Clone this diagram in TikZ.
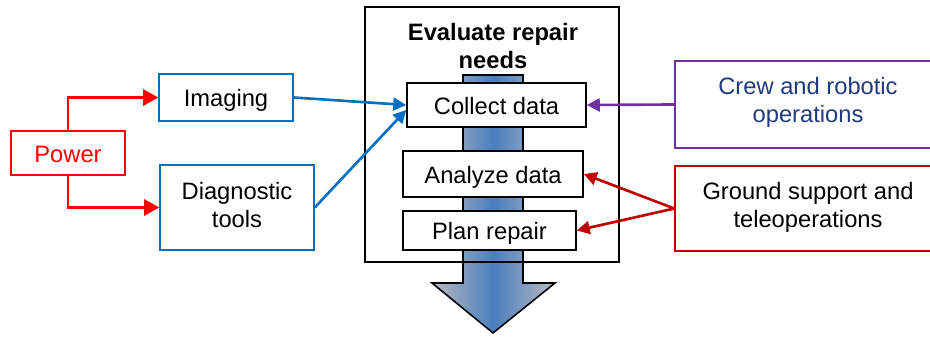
\documentclass[tikz,border=0pt]{standalone}
\usepackage{fontspec}
\setmainfont{Liberation Sans}
\usetikzlibrary{arrows.meta,positioning}
\definecolor{pwr}{HTML}{FF0000}
\definecolor{tool}{HTML}{0070C0}
\definecolor{crew}{HTML}{7030A0}
\definecolor{navy}{HTML}{1F3A80}
\definecolor{gnd}{HTML}{C00000}
\definecolor{flowmid}{HTML}{4A7EBF}
\definecolor{flowedge}{HTML}{B8BAC0}
\tikzset{
  lab/.style={font=\fontsize{13.5}{16}\selectfont, align=center, inner sep=0pt},
  one/.style={text height=1.1em, text depth=0.06em},
  box/.style={lab, one, draw=black, line width=0.9pt, fill=white},
  srcbox/.style={lab, line width=0.9pt, fill=white},
  frame/.style={draw=black, line width=0.9pt, inner sep=0pt},
  flow/.style={draw=black, line width=0.9pt, left color=flowedge, right color=flowedge, middle color=flowmid},
  feed/.style={line width=1.6pt, -{Triangle[length=3mm, width=3.2mm]}},
  link/.style={line width=1.5pt, -{Triangle[length=2.6mm, width=2.6mm]}},
}
\begin{document}
\begin{tikzpicture}[x=0.02cm, y=-0.02cm]
\useasboundingbox (0,0) rectangle (930,337);
% big flow arrow behind the steps
\draw[flow] (463,75) -- (523,75) -- (523,283) -- (555,283) -- (493,333)
  -- (432,283) -- (463,283) -- cycle;
\node[frame, minimum width=5.08cm, minimum height=5.1cm] (evaluate) at (492,134.5) {};
\node[lab, font=\fontsize{13.5}{16}\selectfont\bfseries] (title) at (493,46) {Evaluate repair\\needs};
% steps
\node[box, minimum width=3.58cm, minimum height=0.88cm] (collect) at (496.5,105) {Collect data};
\node[box, minimum width=3.6cm, minimum height=0.92cm] (analyze) at (493,174) {Analyze data};
\node[box, minimum width=3.46cm, minimum height=0.78cm] (plan) at (489.5,230.5) {Plan repair};
% left side
\node[srcbox, one, draw=pwr, text=pwr, minimum width=2.28cm, minimum height=0.88cm] (power) at (68,153) {Power};
\node[srcbox, one, draw=tool, minimum width=2.68cm, minimum height=0.94cm] (imaging) at (226,97.5) {Imaging};
\node[srcbox, draw=tool, text depth=3.4pt, minimum width=3.08cm, minimum height=1.7cm] (diag) at (237,207.5) {Diagnostic\\tools};
% right side, cut off by the page edge
\node[srcbox, draw=crew, text=navy, text depth=5.6pt, minimum width=5.8cm, minimum height=1.74cm] (crewops) at (820,104.5) {\hspace*{-0.48cm}Crew and robotic\\\hspace*{-0.48cm}operations};
\node[srcbox, draw=gnd, text depth=4.5pt, minimum width=5.8cm, minimum height=1.7cm] (ground) at (820,208.5) {\hspace*{-0.48cm}Ground support and\\\hspace*{-0.48cm}teleoperations};
% connectors
\draw[feed, pwr] (power.north) |- (imaging.west);
\draw[feed, pwr] (power.south) |- (diag.west);
\draw[link, tool] (imaging.east) -- (collect.west);
\draw[link, tool] (diag.east) -- ([yshift=-1mm]collect.west);
\draw[link, crew] (crewops.west) -- (collect.east);
\draw[link, gnd] (ground.west) -- (analyze.east);
\draw[link, gnd] (ground.west) -- (plan.east);
\end{tikzpicture}
\end{document}
